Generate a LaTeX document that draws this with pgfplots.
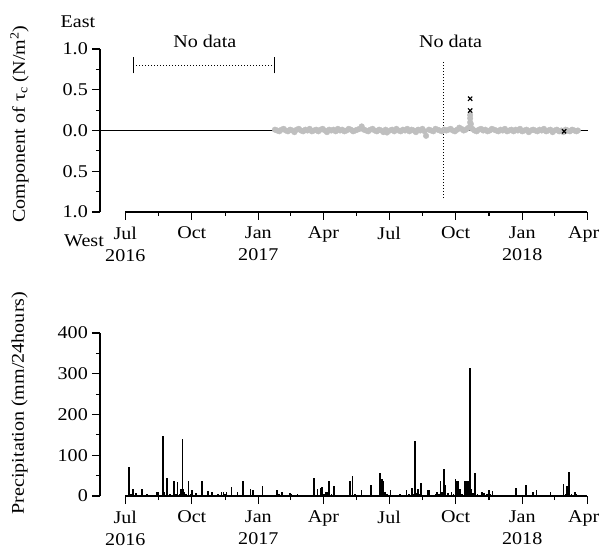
\documentclass[border=0pt]{standalone}
\usepackage{fontspec}
\setmainfont{Liberation Serif}[FakeStretch=1.12]
\usepackage{pgfplots}
\pgfplotsset{compat=1.18}
\definecolor{dotgray}{HTML}{BFBFBF}
\begin{document}
\fontsize{18}{22}\selectfont
\begin{tikzpicture}
\useasboundingbox (0,0) rectangle (601bp,548bp);
\pgfplotsset{
  myaxis/.style={
    scale only axis, width=488bp, height=163bp,
    xmin=-35, xmax=640,
    axis x line*=bottom, axis y line*=left,
    axis line style={-, line width=1.1bp, black},
    x axis line style={draw=none},
    tick align=outside,
    major tick length=8bp, minor tick length=4bp,
    tick style={black, line width=1.1bp},
    xtick={0,92,184,274,365,457,549,639},
    minor xtick={46,138,229,319.5,411,503,594},
    xticklabels={Jul\\2016,Oct,Jan\\2017,Apr,Jul,Oct,Jan\\2018,Apr\hspace*{7bp}},
    xticklabel style={align=center, inner sep=4bp, yshift=-2.5bp},
    yticklabel style={inner sep=4bp},
    clip=false,
  }
}
% ---------------- top panel ----------------
\begin{axis}[myaxis, at={(100bp,336bp)}, anchor=south west,
  ymin=-1, ymax=1,
  ytick={-1,-0.5,0,0.5,1},
  minor ytick={-0.75,-0.25,0.25,0.75},
  yticklabels={1.0,0.5,0.0,0.5,1.0},
  ylabel={Component of τ\textsubscript{c} (N/m\textsuperscript{2})},
  ylabel style={at={(axis description cs:-0.165,0.54)}, anchor=center},
]
\addplot[only marks, mark=*, mark size=2.8bp, color=dotgray, mark options={draw=dotgray, fill=dotgray}] coordinates {
(207,0.01)(210,0.00)(213,-0.01)(216,0.01)(219,0.02)(222,0.00)(225,-0.01)(228,0.01)(231,0.00)(234,-0.02)
(237,0.01)(240,0.02)(243,0.00)(246,-0.01)(249,0.01)(252,0.00)(255,0.02)(258,-0.01)(261,0.00)(264,0.01)
(267,-0.01)(270,0.01)(273,0.02)(276,0.00)(279,-0.02)(282,0.01)(285,0.00)(288,0.01)(291,-0.01)(294,0.02)
(297,0.00)(300,0.01)(303,-0.01)(306,0.00)(309,0.02)(312,0.01)(315,-0.01)(318,0.00)(321,0.01)(324,0.02)
(327,0.05)(330,0.01)(333,0.00)(336,-0.01)(339,0.01)(342,0.02)(345,0.00)(348,-0.01)(351,0.01)(354,0.00)
(357,-0.02)(360,0.01)(362,-0.025)(366,0.00)(369,0.01)(372,-0.01)(375,0.02)(378,0.00)(381,-0.01)(384,0.01)
(387,0.00)(390,0.02)(393,-0.01)(396,0.01)(399,0.00)(402,-0.02)(405,0.01)(408,0.00)(411,0.02)(414,-0.01)
(416,-0.065)(420,0.01)(423,0.00)(426,-0.01)(429,0.02)(432,0.01)(435,0.00)(438,-0.01)(441,0.01)(444,0.00)
(447,0.01)(450,0.02)(453,0.00)(456,-0.01)(459,0.01)(462,0.035)(465,0.02)(468,0.00)(471,0.01)(474,0.03)
(477,0.05)(477,0.10)(477,0.15)(477,0.19)(478,0.08)
(480,0.02)(483,0.00)(486,-0.01)(489,0.01)(492,0.02)(495,0.00)(498,0.01)(501,-0.01)(504,0.00)
(507,0.02)(510,0.01)(513,0.00)(516,-0.01)(519,0.01)(522,0.00)(525,0.02)(528,-0.01)(531,0.00)(534,0.01)
(537,-0.01)(540,0.01)(543,0.00)(546,0.02)(549,-0.01)(552,0.00)(555,0.01)(558,-0.02)(561,0.00)(564,0.01)
(567,0.00)(570,-0.01)(573,0.01)(576,0.00)(579,0.02)(582,-0.01)(585,0.00)(588,0.01)(591,-0.02)(594,0.00)
(597,0.01)(600,-0.01)(603,0.00)(606,-0.02)(609,0.01)(612,0.00)(615,-0.01)(618,0.01)(621,0.00)(624,-0.01)
(626,0.00)
};
\addplot[black, line width=1bp] coordinates {(-35,0) (640,0)};
\addplot[only marks, mark=x, mark size=3bp, black, mark options={line width=1.2bp}] coordinates {(477,0.39) (477,0.245) (607,-0.01)};
\draw[line width=1.1bp] (axis cs:0,-1) -- (axis cs:639,-1);
% no data annotations
\draw[line width=0.9bp, dash pattern=on 1bp off 2bp] (axis cs:11,0.8) -- (axis cs:206,0.8);
\draw[line width=1.1bp] (axis cs:11,0.7) -- (axis cs:11,0.9);
\draw[line width=1.1bp] (axis cs:206,0.7) -- (axis cs:206,0.9);
\node[anchor=base] at (axis cs:110,1.015) {No data};
\draw[line width=0.9bp, dash pattern=on 1bp off 2bp] (axis cs:440,-0.83) -- (axis cs:440,0.86);
\node[anchor=base] at (axis cs:450,1.015) {No data};
\end{axis}
% ---------------- bottom panel ----------------
\begin{axis}[myaxis, at={(100bp,52bp)}, anchor=south west,
  ymin=0, ymax=400,
  ytick={0,100,200,300,400},
  minor ytick={50,150,250,350},
  yticklabels={0,100,200,300,400},
  ylabel={Precipitation (mm/24hours)},
  ylabel style={at={(axis description cs:-0.165,0.57)}, anchor=center},
]
\addplot[ycomb, black, line width=1.6bp, mark=none] coordinates {
(5,71)(8,4)(10.6,18)(13,3)(15,7)(19,2)(23,18)(27,2)(30,6)(36,2)(40,3)(44,11)(46,11)(48,3)
(52,147)(54,10)(57.6,43)(60,3)(62,6)(67,38)(68,38)(70,4)(72,34)(75,5)(77,18)(79,139)(80,18)(82,10)(84,4)
(87.6,36)(90,5)(92,14)(95,3)(98,7)(102,2)(106,38)(110,3)(114,12)(117,3)(120,9)(124,2)(128,6)(133,9)(136,9)
(138,5)(140,9)(143,3)(147,21)(151,2)(155,11)(159,3)(163,38)(168,2)(173,16)(177,14)(181,3)(189.5,25)(195,2)
(200,3)(210,15)(213,4)(217,11)(221,3)(228,7)(230,6)(238,6)(245,2)(250,2)(255,3)(261,43)(266,18)(270,20)
(272,22)(275,5)(278,11)(280,11)(282,38)(285,4)(288.6,24)(295,3)(300,2)(306,2)(311,36)(314,49)(318,5)(322,3)
(326.5,15)(330,3)(334,3)(340,26)(346,2)(352.7,56)(355,42)(357,36)(359,11)(362,4)(366.6,15)(372,2)(380,6)
(384,2)(388.7,14)(392,4)(396.5,20)(398,5)(400.7,134)(403,8)(405,18)(407,4)(409,33)(413,3)(419,15)(421,14)
(425,3)(429,5)(431,9)(434,6)(436,36)(438,10)(441,67)(443,26)(446,7)(449,3)(451,9)(454,4)(456.5,42)(459,38)
(461,37)(463,18)(466,4)(470,38)(473,38)(475,37)(477,313)(479,18)(481,8)(483.7,57)(487,4)(490,3)(493,11)
(496,7)(500,4)(503,15)(505,5)(508,12)(515,3)(525,2)(532,2)(540,20)(545,2)(550,3)(554,28)(558,2)(564,11)
(569,14)(575,3)(581,2)(588,9)(595,2)(600,3)(606,29)(609,5)(611,24)(614,60)(617,4)(620,3)(622,9)(624,6)(627,2)
};
\draw[line width=1.1bp] (axis cs:0,0) -- (axis cs:639,0);
\end{axis}
\node[anchor=base] at (78bp,520bp) {East};
\node[anchor=base] at (84bp,301bp) {West};
\end{tikzpicture}
\end{document}
